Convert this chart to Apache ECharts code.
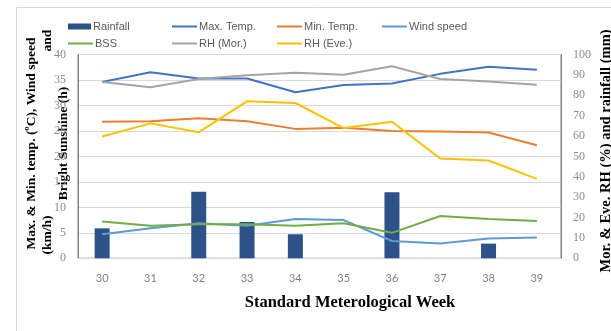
<!DOCTYPE html>
<html>
<head>
<meta charset="utf-8">
<script src="https://cdn.jsdelivr.net/npm/echarts@6/dist/echarts.min.js"></script>
<style>html,body{margin:0;padding:0;background:#fff;}#c{width:611px;height:331px;}</style>
</head>
<body>
<div id="c"></div>
<script>
const weeks = ['30','31','32','33','34','35','36','37','38','39'];
const rainfall = [14.7, 0, 32.7, 17.8, 11.8, 0, 32.4, 0, 7.2, 0];
const maxTemp = [34.6, 36.5, 35.3, 35.3, 32.6, 34.0, 34.3, 36.2, 37.6, 37.0];
const minTemp = [26.8, 26.9, 27.5, 26.9, 25.4, 25.6, 25.0, 24.9, 24.7, 22.2];
const windSpeed = [4.7, 5.9, 6.9, 6.4, 7.7, 7.5, 3.4, 2.9, 3.9, 4.1];
const bss = [7.2, 6.4, 6.7, 6.7, 6.4, 6.9, 5.0, 8.3, 7.7, 7.3];
const rhMor = [86.5, 83.9, 88.0, 89.8, 91.0, 90.1, 94.2, 88.0, 86.8, 85.1];
const rhEve = [59.8, 66.2, 61.9, 77.0, 76.2, 63.9, 67.0, 49.0, 48.0, 39.0];

const serif = '"Liberation Serif", "Times New Roman", serif';
const legFont = '"Liberation Sans Narrow", "Liberation Sans", sans-serif';

const colors = {
  'Rainfall': '#2f5189',
  'Max. Temp.': '#4472c4',
  'Min. Temp.': '#ed7d31',
  'Wind speed': '#5b9bd5',
  'BSS': '#70ad47',
  'RH (Mor.)': '#a5a5a5',
  'RH (Eve.)': '#ffc000'
};

function leg(name, left, top, isBar) {
  return {
    data: [name], left: left, top: top, icon: 'rect',
    itemWidth: isBar ? 23 : 25, itemHeight: isBar ? 6 : 2,
    padding: 0, selectedMode: false,
    textStyle: { color: '#595959', fontSize: 11, fontFamily: legFont, padding: [0,0,0,-3] }
  };
}

function line(name, data, axis) {
  return {
    name: name, type: 'line', data: data, yAxisIndex: axis,
    symbol: 'none', smooth: false,
    lineStyle: { width: 2, color: colors[name] },
    itemStyle: { color: colors[name] }, z: 3
  };
}

const chart = echarts.init(document.getElementById('c'));
chart.setOption({
  animation: false,
  backgroundColor: '#fff',
  legend: [
    leg('Rainfall', 68, 21, true),
    leg('Max. Temp.', 172, 21),
    leg('Min. Temp.', 277, 21),
    leg('Wind speed', 382, 21),
    leg('BSS', 68, 38),
    leg('RH (Mor.)', 172, 38),
    leg('RH (Eve.)', 277, 38)
  ],
  grid: { left: 78, right: 50, top: 54.5, bottom: 72.7, show: true, borderColor: '#808080', borderWidth: 1 },
  xAxis: {
    type: 'category', data: weeks,
    axisLine: { show: true, lineStyle: { color: '#d9d9d9' } },
    axisTick: { show: false },
    axisLabel: { color: '#7f7f7f', fontSize: 11, fontFamily: 'Lato, sans-serif', margin: 15 }
  },
  yAxis: [
    {
      type: 'value', min: 0, max: 40, interval: 5,
      axisLine: { show: true, lineStyle: { color: '#808080' } },
      axisTick: { show: false },
      splitLine: { lineStyle: { color: '#d9d9d9' } },
      axisLabel: { color: '#8c8c8c', fontSize: 12, fontFamily: serif, margin: 12 }
    },
    {
      type: 'value', min: 0, max: 100, interval: 10,
      axisLine: { show: true, lineStyle: { color: '#808080' } },
      axisTick: { show: false },
      splitLine: { show: false },
      axisLabel: { color: '#8c8c8c', fontSize: 12, fontFamily: serif, margin: 12 }
    }
  ],
  series: [
    { name: 'Rainfall', type: 'bar', data: rainfall, yAxisIndex: 1, barWidth: 15,
      itemStyle: { color: colors['Rainfall'] }, z: 2 },
    line('Max. Temp.', maxTemp, 0),
    line('Min. Temp.', minTemp, 0),
    line('Wind speed', windSpeed, 0),
    line('BSS', bss, 0),
    line('RH (Mor.)', rhMor, 1),
    line('RH (Eve.)', rhEve, 1)
  ],
  graphic: [
    { type: 'rect', left: 14, top: 5, shape: { width: 640, height: 360 }, silent: true, z: -10,
      style: { fill: 'none', stroke: '#d9d9d9', lineWidth: 1 } },
    { type: 'text', x: 32, y: 143.5, rotation: Math.PI / 2,
      style: { text: 'Max. & Min. temp. (ºC), Wind speed', font: 'bold 13.5px ' + serif, fill: '#000', align: 'center', verticalAlign: 'middle' } },
    { type: 'text', x: 48, y: 235, rotation: Math.PI / 2,
      style: { text: '(km/h)', font: 'bold 13.5px ' + serif, fill: '#000', align: 'center', verticalAlign: 'middle' } },
    { type: 'text', x: 48, y: 40.5, rotation: Math.PI / 2,
      style: { text: 'and', font: 'bold 13.5px ' + serif, fill: '#000', align: 'center', verticalAlign: 'middle' } },
    { type: 'text', x: 64, y: 143.5, rotation: Math.PI / 2,
      style: { text: 'Bright Sunshine (h)', font: 'bold 13.5px ' + serif, fill: '#000', align: 'center', verticalAlign: 'middle' } },
    { type: 'text', x: 606, y: 151, rotation: Math.PI / 2,
      style: { text: 'Mor. & Eve. RH (%) and rainfall (mm)', font: 'bold 14.5px ' + serif, fill: '#000', align: 'center', verticalAlign: 'middle' } },
    { type: 'text', x: 350, y: 303,
      style: { text: 'Standard Meterological Week', font: 'bold 16.5px ' + serif, fill: '#000', align: 'center', verticalAlign: 'middle' } }
  ]
});
</script>
</body>
</html>
